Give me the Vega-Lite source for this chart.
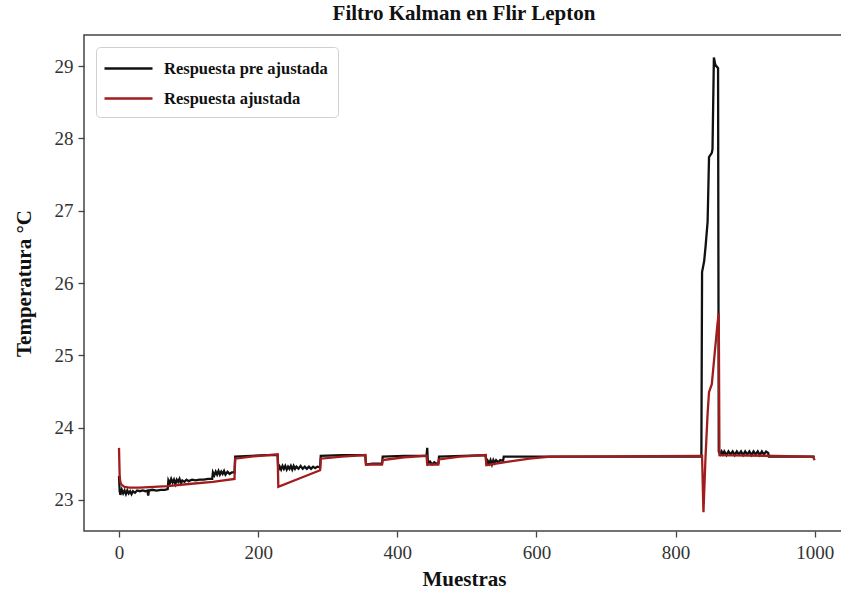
{
  "$schema": "https://vega.github.io/schema/vega-lite/v6.json",
  "width": 760,
  "height": 496,
  "autosize": {"type": "none"},
  "padding": {"left": 84, "top": 35, "right": 0, "bottom": 65},
  "background": "white",
  "title": {"text": "Filtro Kalman en Flir Lepton", "font": "Liberation Serif", "fontSize": 21, "fontWeight": "bold", "color": "#111", "offset": 11, "anchor": "middle"},
  "config": {
    "view": {"stroke": "#444", "strokeWidth": 1.5},
    "axis": {"grid": false, "domain": false, "tickColor": "#444", "tickSize": 6, "tickWidth": 1.3, "labelFont": "Liberation Serif", "labelFontSize": 19, "labelColor": "#333", "titleFont": "Liberation Serif", "titleFontSize": 21, "titleFontWeight": "bold", "titleColor": "#111"},
    "legend": {"orient": "none", "legendX": 12, "legendY": 12, "title": null, "symbolType": "M-2.4,0L2.4,0", "symbolSize": 400, "symbolStrokeWidth": 2.5, "symbolOffset": 11, "labelFont": "Liberation Serif", "labelFontSize": 16.5, "labelFontWeight": "bold", "labelColor": "#111", "labelLimit": 400, "fillColor": "white", "strokeColor": "#d0d0d0", "cornerRadius": 4, "padding": 10, "labelOffset": 24, "rowPadding": 10}
  },
  "datasets": {
    "pre": [
      {"s":0,"t":23.33},{"s":1,"t":23.12},{"s":2,"t":23.07},{"s":4,"t":23.14},{"s":6,"t":23.09},{"s":8,"t":23.13},{"s":10,"t":23.08},{"s":12,"t":23.13},{"s":14,"t":23.09},{"s":16,"t":23.12},{"s":18,"t":23.08},{"s":20,"t":23.12},{"s":23,"t":23.1},{"s":26,"t":23.13},{"s":30,"t":23.12},{"s":34,"t":23.13},{"s":38,"t":23.12},{"s":41,"t":23.13},{"s":42,"t":23.06},{"s":43,"t":23.13},{"s":48,"t":23.14},{"s":54,"t":23.13},{"s":60,"t":23.14},{"s":66,"t":23.14},{"s":70,"t":23.15},
      {"s":71,"t":23.27},{"s":73,"t":23.23},{"s":75,"t":23.29},{"s":77,"t":23.24},{"s":79,"t":23.28},{"s":81,"t":23.22},{"s":83,"t":23.28},{"s":85,"t":23.25},{"s":87,"t":23.29},{"s":89,"t":23.23},{"s":91,"t":23.27},{"s":94,"t":23.25},{"s":97,"t":23.28},{"s":100,"t":23.26},{"s":105,"t":23.28},{"s":110,"t":23.27},{"s":116,"t":23.28},{"s":122,"t":23.28},{"s":128,"t":23.29},{"s":134,"t":23.29},
      {"s":135,"t":23.38},{"s":137,"t":23.34},{"s":139,"t":23.39},{"s":141,"t":23.35},{"s":143,"t":23.4},{"s":145,"t":23.35},{"s":147,"t":23.39},{"s":149,"t":23.36},{"s":151,"t":23.4},{"s":153,"t":23.35},{"s":156,"t":23.39},{"s":159,"t":23.36},{"s":162,"t":23.38},{"s":166,"t":23.38},
      {"s":167,"t":23.6},{"s":190,"t":23.61},{"s":210,"t":23.62},{"s":228,"t":23.62},
      {"s":229,"t":23.41},{"s":231,"t":23.46},{"s":233,"t":23.42},{"s":235,"t":23.47},{"s":237,"t":23.43},{"s":239,"t":23.47},{"s":241,"t":23.42},{"s":243,"t":23.46},{"s":245,"t":23.43},{"s":247,"t":23.47},{"s":249,"t":23.42},{"s":251,"t":23.47},{"s":253,"t":23.43},{"s":255,"t":23.46},{"s":258,"t":23.43},{"s":261,"t":23.47},{"s":264,"t":23.43},{"s":267,"t":23.46},{"s":270,"t":23.43},{"s":273,"t":23.46},{"s":276,"t":23.43},{"s":279,"t":23.46},{"s":282,"t":23.44},{"s":285,"t":23.46},{"s":289,"t":23.45},
      {"s":290,"t":23.61},{"s":320,"t":23.62},{"s":354,"t":23.62},
      {"s":355,"t":23.49},{"s":365,"t":23.5},{"s":378,"t":23.5},
      {"s":379,"t":23.6},{"s":410,"t":23.61},{"s":442,"t":23.61},
      {"s":443,"t":23.72},{"s":444,"t":23.5},{"s":447,"t":23.53},{"s":450,"t":23.49},{"s":453,"t":23.52},{"s":456,"t":23.5},{"s":459,"t":23.51},
      {"s":460,"t":23.6},{"s":495,"t":23.61},{"s":527,"t":23.62},
      {"s":528,"t":23.49},{"s":530,"t":23.54},{"s":532,"t":23.5},{"s":534,"t":23.55},{"s":536,"t":23.49},{"s":538,"t":23.55},{"s":540,"t":23.51},{"s":542,"t":23.55},{"s":545,"t":23.52},{"s":548,"t":23.55},{"s":552,"t":23.54},
      {"s":553,"t":23.6},{"s":700,"t":23.6},{"s":837,"t":23.6},
      {"s":838,"t":26.15},{"s":841,"t":26.3},{"s":843,"t":26.5},{"s":846,"t":26.85},{"s":848,"t":27.74},{"s":852,"t":27.8},{"s":853,"t":27.85},{"s":855,"t":29.12},{"s":857,"t":29.02},{"s":861,"t":28.97},{"s":862,"t":23.67},
      {"s":864,"t":23.63},{"s":866,"t":23.67},{"s":868,"t":23.63},{"s":870,"t":23.67},{"s":873,"t":23.62},{"s":876,"t":23.67},{"s":879,"t":23.63},{"s":882,"t":23.67},{"s":885,"t":23.62},{"s":888,"t":23.67},{"s":891,"t":23.63},{"s":894,"t":23.67},{"s":897,"t":23.62},{"s":900,"t":23.67},{"s":903,"t":23.63},{"s":906,"t":23.67},{"s":909,"t":23.62},{"s":912,"t":23.67},{"s":915,"t":23.63},{"s":918,"t":23.67},{"s":921,"t":23.62},{"s":924,"t":23.67},{"s":927,"t":23.63},{"s":930,"t":23.67},{"s":933,"t":23.65},
      {"s":934,"t":23.6},{"s":1000,"t":23.6}
    ],
    "adj": [
      {"s":0,"t":23.72},{"s":1,"t":23.32},{"s":2,"t":23.25},{"s":3,"t":23.22},{"s":5,"t":23.2},{"s":8,"t":23.18},{"s":15,"t":23.17},{"s":30,"t":23.17},{"s":50,"t":23.18},{"s":70,"t":23.19},{"s":100,"t":23.22},{"s":135,"t":23.25},{"s":166,"t":23.29},{"s":167,"t":23.57},{"s":190,"t":23.6},{"s":228,"t":23.63},{"s":229,"t":23.18},{"s":260,"t":23.3},{"s":289,"t":23.41},{"s":290,"t":23.57},{"s":320,"t":23.6},{"s":354,"t":23.62},{"s":355,"t":23.49},{"s":378,"t":23.49},{"s":379,"t":23.55},{"s":410,"t":23.59},{"s":442,"t":23.61},{"s":443,"t":23.49},{"s":459,"t":23.49},{"s":460,"t":23.56},{"s":490,"t":23.6},{"s":527,"t":23.62},{"s":528,"t":23.48},{"s":560,"t":23.53},{"s":590,"t":23.57},{"s":620,"t":23.6},{"s":838,"t":23.61},{"s":840,"t":22.83},{"s":843,"t":23.6},{"s":846,"t":24.2},{"s":848,"t":24.49},{"s":852,"t":24.6},{"s":855,"t":24.91},{"s":860,"t":25.42},{"s":862,"t":25.58},{"s":863,"t":23.62},{"s":997,"t":23.6},{"s":1000,"t":23.55}
    ]
  },
  "encoding": {
    "x": {"field": "s", "type": "quantitative", "title": "Muestras", "scale": {"domain": [-50.3, 1042], "nice": false, "zero": false}, "axis": {"values": [0, 200, 400, 600, 800, 1000], "format": "d", "labelPadding": 6, "titlePadding": 6}},
    "y": {"field": "t", "type": "quantitative", "title": "Temperatura °C", "scale": {"domain": [22.57, 29.43], "nice": false, "zero": false}, "axis": {"values": [23, 24, 25, 26, 27, 28, 29], "labelPadding": 5, "titlePadding": 20}},
    "color": {"field": "serie", "type": "nominal", "scale": {"domain": ["Respuesta pre ajustada", "Respuesta ajustada"], "range": ["#111111", "#a11d1d"]}}
  },
  "layer": [
    {
      "data": {"name": "pre"},
      "transform": [{"calculate": "'Respuesta pre ajustada'", "as": "serie"}],
      "mark": {"type": "line", "strokeWidth": 2.3, "interpolate": "linear"}
    },
    {
      "data": {"name": "adj"},
      "transform": [{"calculate": "'Respuesta ajustada'", "as": "serie"}],
      "mark": {"type": "line", "strokeWidth": 2.3, "interpolate": "linear"}
    }
  ]
}
